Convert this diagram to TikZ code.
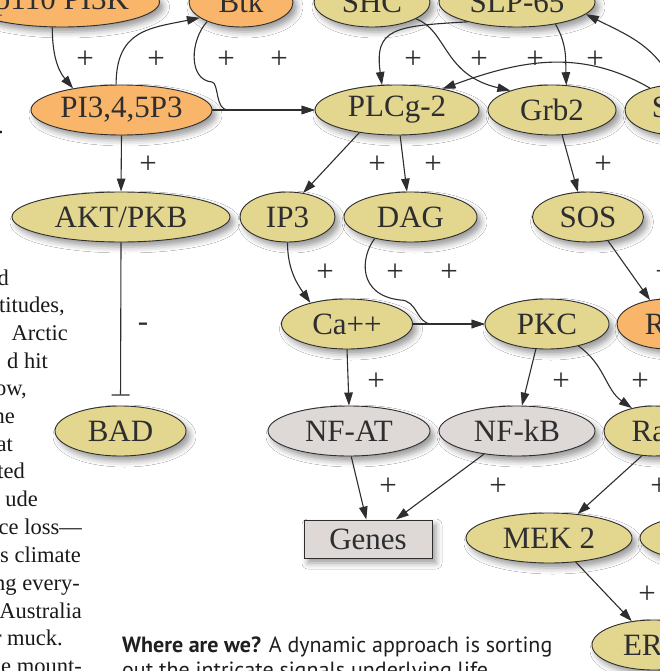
\documentclass[tikz,border=0pt]{standalone}
\usepackage{fontspec}
\setmainfont{Liberation Serif}
\newfontfamily\capfont{PT Sans}
\usetikzlibrary{arrows.meta,shapes.geometric,shadows,shadows.blur}

\definecolor{molyellow}{HTML}{E3D68F}
\definecolor{molorange}{HTML}{F9B66A}
\definecolor{molgrey}{HTML}{DED9D6}
\definecolor{ink}{HTML}{2E2E30}

\tikzset{
  mol/.style={ellipse, draw=ink, line width=0.9pt, fill=molyellow,
    minimum height=50pt, inner sep=0pt, text=ink,
    font=\fontsize{31}{31}\selectfont,
    blur shadow={shadow xshift=4pt, shadow yshift=-5pt, shadow blur radius=6pt}},
  lipid/.style={mol, fill=molorange},
  tf/.style={mol, fill=molgrey},
  act/.style={-{Triangle[length=13pt,width=8.5pt]}, draw=ink, line width=1.1pt},
  inhib/.style={-{Bar[width=18pt]}, draw=ink, line width=1.1pt, shorten >=10pt},
  sign/.style={text=ink, inner sep=0pt, font=\fontsize{31}{31}\selectfont},
  colline/.style={anchor=base east, inner sep=0pt, text=black!90,
    font=\fontsize{22.5}{27}\selectfont},
  capline/.style={anchor=base west, inner sep=0pt, text=black!88,
    font=\capfont\fontsize{22}{26}\selectfont},
}

\begin{document}
\begin{tikzpicture}[x=1pt,y=1pt]

  \useasboundingbox (0,0) rectangle (660,-671);
  \clip (0,0) rectangle (660,-671);
  \fill[white] (0,0) rectangle (660,-671);

  % --- column text at the left ------------------------------------
  \node[colline] (dot) at (4,-134) {.};
  \foreach \x/\y/\t [count=\i] in {9/285/d, 65/312/{titudes,}, 68/340/Arctic,
      48/368/d hit, 27/395/{ow,}, 15/423/ne, 13/451/at, 25/478/ted,
      38/506/ude, 82/534/ce loss—, 81/562/s climate, 80/590/ng every-,
      82/618/Australia, 63/645/r muck., 82/673/e mount-}
    \node[colline] (line\i) at (\x,-\y) {\t};

  % --- molecules ---------------------------------------------------
  \node[lipid, minimum width=195pt] (pi3k) at (62,-2)    {p110 PI3K};
  \node[lipid, minimum width=104pt] (btk)  at (241,-2)   {Btk};
  \node[mol,   minimum width=116pt] (shc)  at (372,-2)   {SHC};
  \node[mol,   minimum width=156pt] (slp)  at (517,-2)   {SLP-65};

  \node[lipid, minimum width=181pt] (pip3) at (121.5,-110) {PI3,4,5P3};
  \node[mol,   minimum width=164pt] (plcg) at (397,-110)   {PLCg-2};
  \node[mol,   minimum width=128pt] (grb2) at (552,-110)   {Grb2};
  \node[mol,   minimum width=102pt] (syk)  at (676,-110)   {Syk};

  \node[mol, minimum width=218pt] (akt) at (121,-217)   {AKT/PKB};
  \node[mol, minimum width=95pt]  (ip3) at (287.5,-217) {IP3};
  \node[mol, minimum width=133pt] (dag) at (410.5,-217) {DAG};
  \node[mol, minimum width=111pt] (sos) at (588,-217)   {SOS};

  \node[mol,   minimum width=131pt] (ca)  at (347,-324) {Ca++};
  \node[mol,   minimum width=124pt] (pkc) at (547,-324) {PKC};
  \node[lipid, minimum width=102pt] (ras) at (668,-324) {Ras};

  \node[mol, minimum width=131pt] (bad)  at (120.5,-431) {BAD};
  \node[tf,  minimum width=162pt] (nfat) at (349,-431)   {NF-AT};
  \node[tf,  minimum width=156pt] (nfkb) at (517,-431)   {NF-kB};
  \node[mol, minimum width=100pt] (raf)  at (654,-431)   {Raf};

  \node[tf, rectangle, minimum width=128pt, minimum height=38pt] (genes) at (368,-539) {Genes};
  \node[mol, minimum width=166pt] (mek2) at (549,-538) {MEK 2};
  \node[mol, minimum width=166pt] (mek1) at (723,-538) {};
  \node[mol, minimum width=124pt] (erk)  at (654,-645) {ERK};

  % --- activations into the second row -----------------------------
  \draw[act] (pi3k.-111) to[out=-90,in=130] (pip3.156);
  \draw[act] (pip3.102) .. controls (116,-30) and (150,-28) .. (btk.-159);
  \draw[act] (btk.-150) .. controls (190,-40) and (188,-80) .. (212,-82)
        .. controls (219,-83) and (215,-110) .. (228,-110) -- (plcg.west);
  \draw[act] (pip3.east) -- (plcg.west);
  \draw[act] (slp.-158) .. controls (395,-26) and (374,-28) .. (plcg.121);
  \draw[act] (shc.-21) .. controls (447,-30) and (443,-75) .. (grb2.155);
  \draw[act] (slp.-30) to[out=-60,in=92] (grb2.60);
  \draw[act] (syk.140) to[out=150,in=20] (plcg.25);
  \draw[act] (syk.95) to[out=115,in=-27] (slp.-10);

  % --- second to third row -----------------------------------------
  \draw[act] (pip3.south) -- (akt.north);
  \draw[act] (plcg.-149) -- (ip3.57);
  \draw[act] (plcg.-83) -- (dag.98);
  \draw[act] (grb2.-68) -- (sos.112);

  % --- third to fourth row -----------------------------------------
  \draw[act] (ip3.south) to[out=-90,in=125] (ca.150);
  \draw[act] (dag.-149) .. controls (360,-258) and (358,-295) .. (400,-300)
        .. controls (418,-300) and (416,-324) .. (432,-324) -- (pkc.west);
  \draw[act] (ca.east) -- (pkc.west);
  \draw[act] (sos.-50) -- (ras.127);
  \draw[inhib] (akt.south) -- (bad.north);

  % --- lower rows --------------------------------------------------
  \draw[act] (ca.south) -- (nfat.north);
  \draw[act] (pkc.-114) -- (nfkb.79);
  \draw[act] (pkc.-35) to[out=-35,in=145] (raf.134);
  \draw[act] (nfat.-85) -- (genes.95);
  \draw[act] (nfkb.-145) -- (genes.35);
  \draw[act] (raf.-116) -- (mek2.40);
  \draw[act] (mek2.-42) -- (erk.133);

  % --- signs -------------------------------------------------------
  \foreach \x/\y [count=\i] in {85/60, 156/60, 226/60, 279/60, 413/60, 479/60,
      535/60, 595/60, 148/165, 377/165, 433/165, 603/165, 325/273, 395/273,
      449/273, 664/273, 376/382, 561/382, 640/382, 388/487, 498/487,
      659/487, 647/595}
    \node[sign] (plus\i) at (\x,-\y) {+};
  \node[sign] (minus) at (143,-327) {-};

  % --- caption -----------------------------------------------------
  \node[capline] (cap1) at (122,-652) {\textbf{Where are we?} A dynamic approach is sorting};
  \node[capline] (cap2) at (122,-677) {out the intricate signals underlying life};

\end{tikzpicture}
\end{document}
